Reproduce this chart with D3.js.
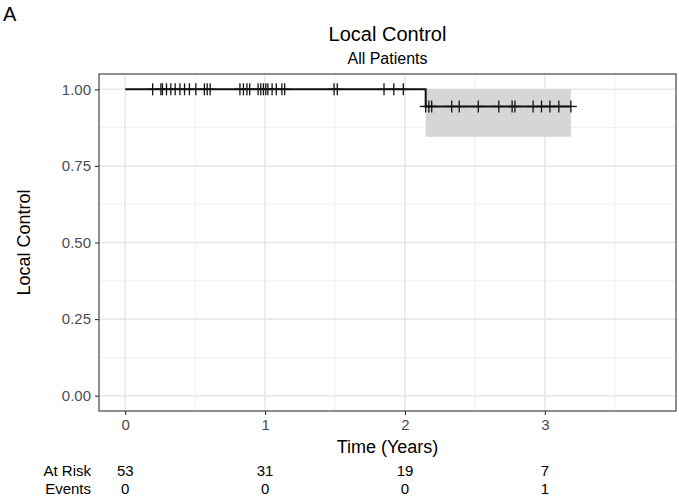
<!DOCTYPE html>
<html>
<head>
<meta charset="utf-8">
<script src="https://cdn.jsdelivr.net/npm/d3@7"></script>
<style>
  body { margin: 0; background: #fff; }
  text { font-family: "Liberation Sans", Arial, sans-serif; }
</style>
</head>
<body>
<div id="chart"></div>
<script>
// survival curve (Kaplan-Meier step points)
var stepTimes = [0, 2.148, 3.186];
var stepSurv = [1, 0.944, 0.944];
// confidence band after the single event
var bandTimes = [2.148, 3.186];
var bandLower = [0.845, 0.845];
var bandUpper = [1, 1];
// censored observations (years)
var censorTimes = [0.196, 0.255, 0.266, 0.295, 0.326, 0.357, 0.391, 0.424, 0.459, 0.505, 0.566, 0.586, 0.607,
  0.82, 0.845, 0.87, 0.89, 0.95, 0.969, 0.988, 1.005, 1.02, 1.05, 1.08, 1.12, 1.14,
  1.493, 1.516, 1.85, 1.92, 1.988, 2.148,
  2.171, 2.191, 2.334, 2.388, 2.524, 2.671, 2.766, 2.786, 2.916, 2.976, 3.036, 3.1, 3.186];
// risk table
var riskTimes = [0, 1, 2, 3];
var atRisk = [53, 31, 19, 7];
var events = [0, 0, 0, 1];
var xTicks = [0, 1, 2, 3];
var yTicks = [0, 0.25, 0.5, 0.75, 1];

var W = 679, H = 497;
var margin = {top: 74, right: 3, bottom: 86, left: 99};
var width = W - margin.left - margin.right,
    height = H - margin.top - margin.bottom;

var x = d3.scaleLinear().domain([-0.1875, 3.9375]).range([0, width]);
var y = d3.scaleLinear().domain([-0.05, 1.05]).range([height, 0]);

function survAt(t) {
  var s = stepSurv[0];
  for (var i = 0; i < stepTimes.length; i++) if (stepTimes[i] <= t) s = stepSurv[i];
  return s;
}

var svg = d3.select("#chart").append("svg")
    .attr("width", W)
    .attr("height", H);

// panel label + titles
svg.append("text").attr("x", 3).attr("y", 21).attr("font-size", 20).attr("fill", "#000").text("A");
svg.append("text").attr("x", margin.left + width / 2).attr("y", 41)
    .attr("text-anchor", "middle").attr("font-size", 20).attr("fill", "#000").text("Local Control");
svg.append("text").attr("x", margin.left + width / 2).attr("y", 64)
    .attr("text-anchor", "middle").attr("font-size", 16).attr("fill", "#000").text("All Patients");

var g = svg.append("g")
    .attr("transform", "translate(" + margin.left + "," + margin.top + ")");

// grid
var xMinor = [0.5, 1.5, 2.5, 3.5];
var yMinor = [0.125, 0.375, 0.625, 0.875];
g.selectAll(".xminor").data(xMinor).enter().append("line")
    .attr("x1", d => x(d)).attr("x2", d => x(d)).attr("y1", 0).attr("y2", height)
    .attr("stroke", "#f0f0f0").attr("stroke-width", 1);
g.selectAll(".yminor").data(yMinor).enter().append("line")
    .attr("y1", d => y(d)).attr("y2", d => y(d)).attr("x1", 0).attr("x2", width)
    .attr("stroke", "#f0f0f0").attr("stroke-width", 1);
g.selectAll(".xmajor").data(xTicks).enter().append("line")
    .attr("x1", d => x(d)).attr("x2", d => x(d)).attr("y1", 0).attr("y2", height)
    .attr("stroke", "#e8e8e8").attr("stroke-width", 1.6);
g.selectAll(".ymajor").data(yTicks).enter().append("line")
    .attr("y1", d => y(d)).attr("y2", d => y(d)).attr("x1", 0).attr("x2", width)
    .attr("stroke", "#e8e8e8").attr("stroke-width", 1.6);

// confidence band
var area = d3.area().curve(d3.curveStepAfter)
    .x(d => x(d.t)).y0(d => y(d.lo)).y1(d => y(d.hi));
var bandData = bandTimes.map((t, i) => ({t: t, lo: bandLower[i], hi: bandUpper[i]}));
g.append("path").datum(bandData).attr("d", area)
    .attr("fill", "#d6d6d6");

// survival step line
var line = d3.line().curve(d3.curveStepAfter).x(d => x(d.t)).y(d => y(d.s));
var stepData = stepTimes.map((t, i) => ({t: t, s: stepSurv[i]}));
g.append("path").datum(stepData).attr("d", line)
    .attr("fill", "none").attr("stroke", "#111").attr("stroke-width", 2);

// censor marks (+)
var cs = 6;
var marks = g.selectAll(".cens").data(censorTimes).enter().append("g")
    .attr("transform", d => "translate(" + x(d) + "," + y(survAt(d)) + ")");
marks.append("line").attr("x1", 0).attr("x2", 0).attr("y1", -cs).attr("y2", cs)
    .attr("stroke", "#111").attr("stroke-width", 1.3);
marks.append("line").attr("x1", -cs).attr("x2", cs).attr("y1", 0).attr("y2", 0)
    .attr("stroke", "#111").attr("stroke-width", 1.3);

// panel border
g.append("rect").attr("width", width).attr("height", height)
    .attr("fill", "none").attr("stroke", "#333").attr("stroke-width", 1.1);

// axes
var xAxis = g.append("g").attr("transform", "translate(0," + height + ")")
    .call(d3.axisBottom(x).tickValues(xTicks).tickFormat(d3.format("d")).tickSizeOuter(0).tickSize(4).tickPadding(4));
var yAxis = g.append("g")
    .call(d3.axisLeft(y).tickValues(yTicks).tickFormat(d3.format(".2f")).tickSizeOuter(0).tickSize(4).tickPadding(4));
[xAxis, yAxis].forEach(function(a) {
  a.select(".domain").remove();
  a.selectAll("line").attr("stroke", "#333").attr("stroke-width", 1.1);
  a.selectAll("text").attr("fill", "#4d4d4d").attr("font-size", 15)
    .attr("font-family", "Liberation Sans, Arial, sans-serif");
});

// axis titles
svg.append("text").attr("x", margin.left + width / 2).attr("y", 453)
    .attr("text-anchor", "middle").attr("font-size", 18).attr("fill", "#000").text("Time (Years)");
svg.append("text").attr("transform", "translate(30," + (margin.top + height / 2) + ") rotate(-90)")
    .attr("text-anchor", "middle").attr("font-size", 18).attr("fill", "#000").text("Local Control");

// risk table
var rowY = [476, 494];
svg.append("text").attr("x", 91).attr("y", rowY[0]).attr("text-anchor", "end")
    .attr("font-size", 15).attr("fill", "#000").text("At Risk");
svg.append("text").attr("x", 91).attr("y", rowY[1]).attr("text-anchor", "end")
    .attr("font-size", 15).attr("fill", "#000").text("Events");
svg.selectAll(".risk").data(atRisk).enter().append("text")
    .attr("x", (d, i) => margin.left + x(riskTimes[i])).attr("y", rowY[0])
    .attr("text-anchor", "middle").attr("font-size", 15).attr("fill", "#000").text(d => d);
svg.selectAll(".ev").data(events).enter().append("text")
    .attr("x", (d, i) => margin.left + x(riskTimes[i])).attr("y", rowY[1])
    .attr("text-anchor", "middle").attr("font-size", 15).attr("fill", "#000").text(d => d);
</script>
</body>
</html>
